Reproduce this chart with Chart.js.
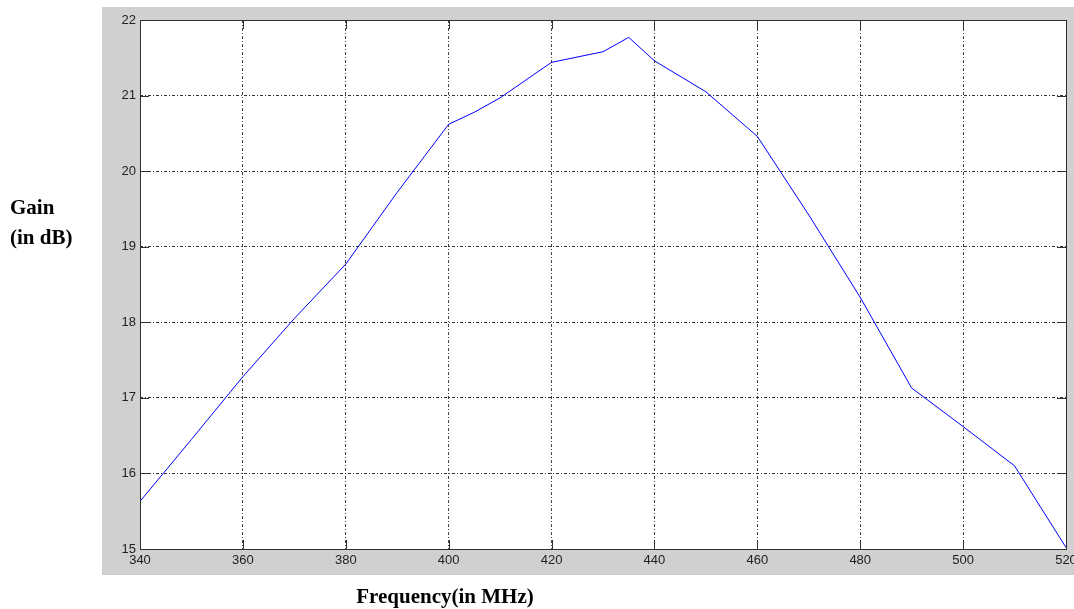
<!DOCTYPE html>
<html>
<head>
<meta charset="utf-8">
<script src="https://cdn.jsdelivr.net/npm/chart.js@4"></script>
<style>
  html, body { margin: 0; padding: 0; background: #fff; }
  #wrap { position: relative; width: 1074px; height: 609px; }
</style>
</head>
<body>
<div id="wrap"><canvas id="gainChart" width="1074" height="609"></canvas></div>
<script>
// frequency (MHz) and gain (dB)
var freqs = [340, 350, 360, 370, 380, 390, 400, 405, 410, 420, 430, 435, 440, 450, 460, 470, 480, 490, 500, 510, 520];
var gains = [15.63, 16.45, 17.28, 18.05, 18.77, 19.72, 20.62, 20.78, 20.97, 21.44, 21.58, 21.77, 21.46, 21.05, 20.46, 19.42, 18.33, 17.13, 16.62, 16.10, 15.02];
var xTicks = [340, 360, 380, 400, 420, 440, 460, 480, 500, 520];
var yTicks = [15, 16, 17, 18, 19, 20, 21, 22];

var points = freqs.map(function (f, i) { return { x: f, y: gains[i] }; });

// grey figure background + axis titles outside the axes
var figureBg = {
    id: 'figureBg',
    beforeDraw: function (chart) {
        var ctx = chart.ctx;
        ctx.save();
        ctx.fillStyle = '#fff';
        ctx.fillRect(0, 0, chart.width, chart.height);
        ctx.fillStyle = '#d0d0d0';
        ctx.fillRect(102, 7, chart.width - 102, 568);
        var a = chart.chartArea;
        ctx.fillStyle = '#fff';
        ctx.fillRect(a.left, a.top, a.right - a.left, a.bottom - a.top);
        ctx.restore();
    },
    afterDraw: function (chart) {
        var ctx = chart.ctx;
        var a = chart.chartArea;
        ctx.save();
        // box round the axes
        ctx.strokeStyle = '#303030';
        ctx.lineWidth = 1;
        ctx.strokeRect(a.left + 0.5, a.top + 0.5, a.right - a.left, a.bottom - a.top);
        // inward tick marks on all four sides
        var xs = chart.scales.x, ys = chart.scales.y;
        ctx.beginPath();
        xTicks.forEach(function (v) {
            var px = Math.round(xs.getPixelForValue(v)) + 0.5;
            ctx.moveTo(px, a.bottom); ctx.lineTo(px, a.bottom - 9);
            ctx.moveTo(px, a.top); ctx.lineTo(px, a.top + 9);
        });
        yTicks.forEach(function (v) {
            var py = Math.round(ys.getPixelForValue(v)) + 0.5;
            ctx.moveTo(a.left, py); ctx.lineTo(a.left + 9, py);
            ctx.moveTo(a.right, py); ctx.lineTo(a.right - 9, py);
        });
        ctx.stroke();
        // axis titles
        ctx.fillStyle = '#000';
        ctx.font = 'bold 21px "Liberation Serif", "Times New Roman", serif';
        ctx.textBaseline = 'alphabetic';
        ctx.textAlign = 'left';
        ctx.fillText('Gain', 10, 214);
        ctx.fillText('(in dB)', 10, 244);
        ctx.textAlign = 'center';
        ctx.fillText('Frequency(in MHz)', 445, 603);
        ctx.restore();
    }
};

var tickFont = { family: '"Liberation Sans", Arial, sans-serif', size: 13 };

new Chart('gainChart', {
    type: 'line',
    data: {
        datasets: [{
            data: points,
            borderColor: '#0000ff',
            borderWidth: 1,
            pointRadius: 0,
            tension: 0,
            fill: false
        }]
    },
    options: {
        responsive: false,
        animation: false,
        layout: { autoPadding: false, padding: { left: 0, right: 8, top: 20, bottom: 0 } },
        plugins: {
            legend: { display: false },
            tooltip: { enabled: false }
        },
        scales: {
            x: {
                type: 'linear',
                min: 340,
                max: 520,
                afterBuildTicks: function (s) { s.ticks = xTicks.map(function (v) { return { value: v }; }); },
                afterFit: function (s) { s.height = 60; s.paddingLeft = 0; s.paddingRight = 0; },
                border: { display: false, dash: [3, 2, 1, 2] },
                grid: { color: '#444', lineWidth: 1, drawTicks: false },
                ticks: { color: '#222', font: tickFont, padding: 4, maxRotation: 0 }
            },
            y: {
                min: 15,
                max: 22,
                afterBuildTicks: function (s) { s.ticks = yTicks.map(function (v) { return { value: v }; }); },
                afterFit: function (s) { s.width = 140; s.paddingTop = 0; s.paddingBottom = 0; },
                border: { display: false, dash: [3, 2, 1, 2] },
                grid: { color: '#333', lineWidth: 1, drawTicks: false },
                ticks: { color: '#222', font: tickFont, padding: 4 }
            }
        }
    },
    plugins: [figureBg]
});
</script>
</body>
</html>
